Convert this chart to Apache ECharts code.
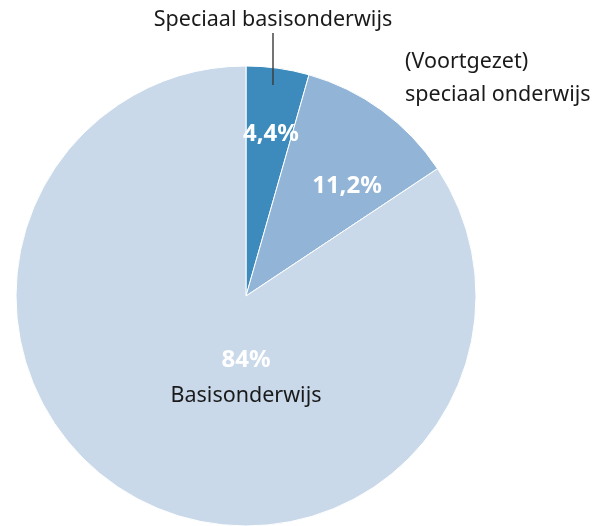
<!DOCTYPE html>
<html>
<head>
<meta charset="utf-8">
<script src="https://cdn.jsdelivr.net/npm/echarts@6/dist/echarts.min.js"></script>
<style>html,body{margin:0;padding:0;background:#fff;}#chart{width:605px;height:526px;}</style>
</head>
<body>
<div id="chart"></div>
<script>
const categories = ['Speciaal basisonderwijs', '(Voortgezet)\nspeciaal onderwijs', 'Basisonderwijs'];
const values = [4.4, 11.2, 84];
const sliceColors = ['#3d8bbd', '#92b5d7', '#c9d9ea'];
const FONT = '"Noto Sans", "Open Sans", sans-serif';

function fmtPct(v) { return String(v).replace('.', ',') + '%'; }

const chart = echarts.init(document.getElementById('chart'), null, {renderer: 'canvas'});

const pctPos = [[271, 134], [347, 186], [246, 378]];
const namePos = [[273, 20], [405, 78]];

chart.setOption({
  animation: false,
  series: [
    {
      type: 'pie',
      z: 2,
      center: [246, 296],
      radius: 230,
      startAngle: 90,
      clockwise: true,
      silent: true,
      itemStyle: {borderColor: '#ffffff', borderWidth: 1},
      label: {
        show: true,
        position: 'inside',
        color: '#ffffff',
        fontFamily: FONT,
        fontWeight: 'bold',
        fontSize: 24,
        formatter: function (p) {
          if (p.dataIndex === 2) return '{v|' + fmtPct(p.value) + '}\n{n|' + p.name + '}';
          return fmtPct(p.value);
        },
        rich: {
          v: {color: '#ffffff', fontFamily: FONT, fontWeight: 'bold', fontSize: 24, lineHeight: 35},
          n: {color: '#1a1a1a', fontFamily: FONT, fontWeight: 'normal', fontSize: 21.5, lineHeight: 35}
        }
      },
      labelLine: {show: false},
      labelLayout: function (params) {
        const p = pctPos[params.dataIndex];
        return {x: p[0], y: p[1], align: 'center', verticalAlign: 'middle'};
      },
      data: values.map((v, i) => ({value: v, name: categories[i], itemStyle: {color: sliceColors[i]}}))
    },
    {
      type: 'pie',
      zlevel: 1,
      z: 5,
      center: [246, 296],
      radius: 10,
      startAngle: 90,
      clockwise: true,
      silent: true,
      itemStyle: {color: 'rgba(0,0,0,0)', borderWidth: 0},
      label: {
        show: true,
        position: 'outside',
        color: '#1a1a1a',
        fontFamily: FONT,
        fontSize: 21.5,
        lineHeight: 33,
        overflow: 'none',
        formatter: function (p) { return p.dataIndex === 2 ? '' : p.name; }
      },
      labelLine: {show: true, length: 5, length2: 5, maxSurfaceAngle: null, minTurnAngle: null,
                  lineStyle: {color: '#3a3a3a', width: 1.4}},
      labelLayout: function (params) {
        const i = params.dataIndex;
        if (i === 0) {
          return {x: namePos[0][0], y: namePos[0][1], align: 'center', verticalAlign: 'middle',
                  labelLinePoints: [[273, 85], [273, 60], [273, 33]]};
        }
        if (i === 1) {
          return {x: namePos[1][0], y: namePos[1][1], align: 'left', verticalAlign: 'middle'};
        }
        return {x: -100, y: -100};
      },
      data: values.map((v, i) => ({
        value: v, name: categories[i],
        labelLine: {show: i === 0}
      }))
    }
  ]
});
</script>
</body>
</html>
